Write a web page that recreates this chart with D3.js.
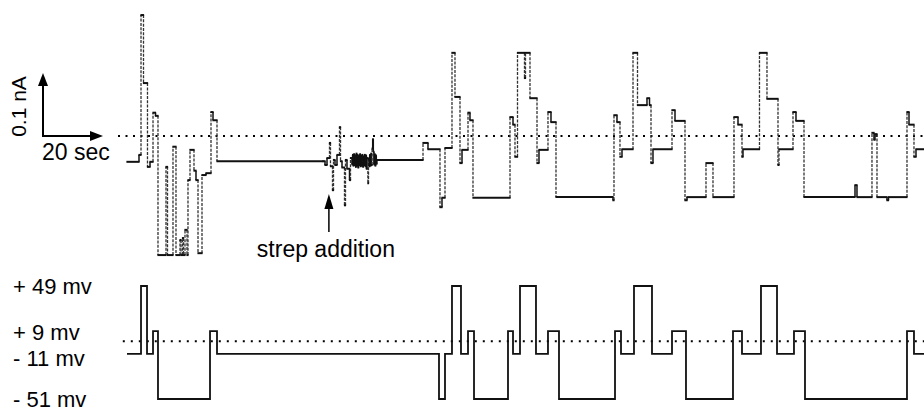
<!DOCTYPE html>
<html>
<head>
<meta charset="utf-8">
<script src="https://cdn.jsdelivr.net/npm/d3@7"></script>
<style>
  html, body { margin: 0; padding: 0; background: #fff; }
  svg { display: block; }
  text { font-family: "Liberation Sans", Arial, Helvetica, sans-serif; fill: #000; }
</style>
</head>
<body>
<svg id="chart" width="924" height="412"></svg>
<script>
// ---- Data (time in seconds, current in pA, voltage in mV) ----
// Current trace, step levels [time s, current pA] : first voltage cycle
const cycle1Current = [
  [0, -41], [4.0, -30], [4.67, 192], [5.5, 84], [6.83, -49], [7.67, -41],
  [8.67, 37], [9.5, 32], [10.33, -189], [13.0, -49], [13.5, -189],
  [15.33, -17], [16.33, -189], [17.67, -165], [18.0, -189], [18.5, -162],
  [18.83, -189], [19.33, -149], [20.0, -189], [20.33, -70], [21.0, -22],
  [22.33, -55], [23.0, -70], [23.67, -186], [25.0, -62], [26.33, -59],
  [28.0, 38], [28.67, 25], [30.0, -40]
];
// Current during streptomycin addition
const strepCurrent = [
  [65.33, -40], [66.0, -46], [66.67, -35], [67.5, -11], [67.83, -48],
  [68.5, -86], [68.83, -38], [69.33, -46], [70.0, -30], [70.83, 14],
  [71.17, -40], [71.67, -50], [72.5, -110], [72.83, -38], [73.33, -52],
  [74.17, -70], [74.5, -35],
  [75.0, -45], [75.2, -30], [75.4, -47], [75.6, -29], [75.8, -46], [76.0, -31],
  [76.2, -49], [76.4, -28], [76.6, -47], [76.8, -30], [77.0, -50], [77.2, -32],
  [77.4, -46], [77.6, -29], [77.8, -48], [78.0, -31], [78.2, -47], [78.4, -30],
  [78.6, -49], [78.8, -33], [79.0, -46], [79.2, -30], [79.4, -48], [79.6, -31],
  [79.8, -52], [80.0, -35], [80.3, -75], [80.5, -36], [80.7, -48], [80.9, -30],
  [81.1, -47], [81.3, -28], [81.5, -46], [81.7, -20], [81.9, -5], [82.1, -25],
  [82.3, -45], [82.5, -29], [82.7, -47], [82.9, -31], [83.1, -44], [83.3, -38]
];
// Current during the later voltage cycles
const laterCurrent = [
  [98.67, -11], [100.33, -21], [104.33, -113], [105.0, -98], [106.0, -19],
  [108.33, 132], [109.33, 62], [111.0, -43], [111.67, -22], [113.67, 37],
  [114.33, 25], [115.33, -98], [127.67, 30], [128.67, 18], [129.33, -33],
  [130.17, 132], [132.5, 92], [132.83, 132], [134.33, 60], [136.67, -43],
  [137.33, -22], [140.33, 38], [141.33, 22], [143.0, -97], [162.0, -102],
  [162.33, 33], [163.33, 22], [164.33, -33], [165.0, -21], [168.67, 132],
  [170.17, 49], [173.33, 60], [174.17, 49], [174.67, -43], [175.33, -21],
  [181.67, 41], [182.67, 24], [186.0, -102], [186.67, -97], [193.0, -43],
  [195.33, -97], [202.33, 30], [203.67, 18], [205.0, -33], [205.33, -21],
  [210.83, 132], [213.33, 59], [217.0, -46], [217.33, -21], [222.0, 38],
  [223.0, 24], [225.67, -97], [242.67, -78], [243.33, -97], [248.33, 5],
  [249.0, -6], [249.33, 3], [250.0, -97], [253.33, -102], [253.83, -97],
  [260.0, 38], [260.67, 18], [262.33, -33], [263.0, -21], [265.67, -21]
];
// Voltage protocol steps [time s, mV]
const voltageSteps = [
  [0, -11], [4.67, 49], [6.67, -11], [8.67, 9], [10.33, -51], [27.67, 9],
  [30.0, -11], [104.0, -51], [106.0, -11], [108.33, 49], [111.33, -11],
  [113.67, 9], [115.67, -51], [127.0, 9], [128.67, -11], [131.0, 49],
  [136.33, -11], [140.33, 9], [144.0, -51], [162.67, 9], [164.67, -11],
  [169.0, 49], [175.0, -11], [181.67, 9], [186.33, -51], [202.0, 9],
  [205.0, -11], [211.33, 49], [216.67, -11], [222.33, 9], [226.0, -51],
  [260.0, 9], [262.33, -11], [265.67, -11]
];
const voltageLabels = [
  { v: 49, text: "+ 49 mv" },
  { v: 9, text: "+ 9 mv" },
  { v: -11, text: "- 11 mv" },
  { v: -51, text: "- 51 mv" }
];
const scaleBarTime = 20;      // s
const scaleBarCurrent = 100;  // pA (0.1 nA)
const strepTime = 67.3;       // s
const timeDomain = [0, 265.67];

// ---- Scales ----
const svg = d3.select("#chart");
svg.append("rect").attr("width", 924).attr("height", 412).attr("fill", "#fff");

const x = d3.scaleLinear().domain(timeDomain).range([127, 924]);
const yI = d3.scaleLinear().domain([-100, 100]).range([199, 73]);
const yV = d3.scaleLinear().domain([-51, 49]).range([399, 286]);

// ---- Zero (dotted) lines ----
svg.append("line")
  .attr("x1", x(-3)).attr("x2", 924).attr("y1", yI(0)).attr("y2", yI(0))
  .attr("stroke", "#000").attr("stroke-width", 2).attr("stroke-dasharray", "2,5.5");
svg.append("line")
  .attr("x1", x(-1.4)).attr("x2", 924).attr("y1", yV(0)).attr("y2", yV(0))
  .attr("stroke", "#000").attr("stroke-width", 2).attr("stroke-dasharray", "2,6");

// ---- Current trace: chart-recorder look (fast long pen moves are fainter) ----
const currentTrace = cycle1Current.concat(strepCurrent, laterCurrent);
const horiz = [], vert = [];
for (let i = 0; i < currentTrace.length - 1; i++) {
  const [t0, v0] = currentTrace[i], [t1, v1] = currentTrace[i + 1];
  horiz.push({ x1: x(t0), x2: x(t1), y: yI(v0) });
  vert.push({ x: x(t1), y1: yI(v0), y2: yI(v1) });
}
const isLong = d => Math.abs(d.y2 - d.y1) > 14;
const gI = svg.append("g");
gI.selectAll("line.v").data(vert).enter().append("line")
  .attr("class", "v")
  .attr("x1", d => d.x).attr("x2", d => d.x).attr("y1", d => d.y1).attr("y2", d => d.y2)
  .attr("stroke", d => isLong(d) ? "#333" : "#111")
  .attr("stroke-width", d => isLong(d) ? 1.3 : 1.5)
  .attr("stroke-dasharray", d => isLong(d) ? "3,1.3" : null);
gI.selectAll("line.h").data(horiz).enter().append("line")
  .attr("class", "h")
  .attr("x1", d => d.x1 - 0.6).attr("x2", d => d.x2 + 0.6).attr("y1", d => d.y).attr("y2", d => d.y)
  .attr("stroke", "#111").attr("stroke-width", 2);

// ---- Voltage trace ----
const lineV = d3.line().x(d => x(d[0])).y(d => yV(d[1])).curve(d3.curveStepAfter);
svg.append("path").datum(voltageSteps)
  .attr("d", lineV).attr("fill", "none")
  .attr("stroke", "#111").attr("stroke-width", 1.8);

// ---- Scale bars ----
const cx = 43, cy = yI(0);
const hLen = x(scaleBarTime) - x(0);
const vLen = yI(0) - yI(scaleBarCurrent);
svg.append("line").attr("x1", cx).attr("y1", cy).attr("x2", cx).attr("y2", cy - vLen + 8)
  .attr("stroke", "#000").attr("stroke-width", 2);
svg.append("path")
  .attr("d", `M${cx},${cy - vLen} L${cx - 5},${cy - vLen + 13} L${cx + 5},${cy - vLen + 13} Z`)
  .attr("fill", "#000");
svg.append("line").attr("x1", cx - 1).attr("y1", cy).attr("x2", cx + hLen - 8).attr("y2", cy)
  .attr("stroke", "#000").attr("stroke-width", 2);
svg.append("path")
  .attr("d", `M${cx + hLen},${cy} L${cx + hLen - 13},${cy - 5} L${cx + hLen - 13},${cy + 5} Z`)
  .attr("fill", "#000");
svg.append("text").attr("transform", `translate(26,${cy - vLen / 2 + 2}) rotate(-90)`)
  .attr("text-anchor", "middle").attr("font-size", 21).text("0.1 nA");
svg.append("text").attr("x", 42).attr("y", cy + 24)
  .attr("font-size", 23).text("20 sec");

// ---- Strep addition arrow ----
const ax = x(strepTime);
svg.append("line").attr("x1", ax).attr("x2", ax).attr("y1", 232).attr("y2", 205)
  .attr("stroke", "#000").attr("stroke-width", 1.5);
svg.append("path")
  .attr("d", `M${ax},194 L${ax - 4.5},209 L${ax + 4.5},209 Z`).attr("fill", "#000");
svg.append("text").attr("x", ax - 3).attr("y", 257).attr("text-anchor", "middle")
  .attr("font-size", 23).text("strep addition");

// ---- Voltage labels ----
const labelNudge = { "49": 8, "9": 9, "-11": 12, "-51": 8 };
svg.selectAll("text.vlab").data(voltageLabels).enter().append("text")
  .attr("class", "vlab")
  .attr("x", 13)
  .attr("y", d => yV(d.v) + labelNudge[String(d.v)])
  .attr("font-size", 22)
  .text(d => d.text);
</script>
</body>
</html>
